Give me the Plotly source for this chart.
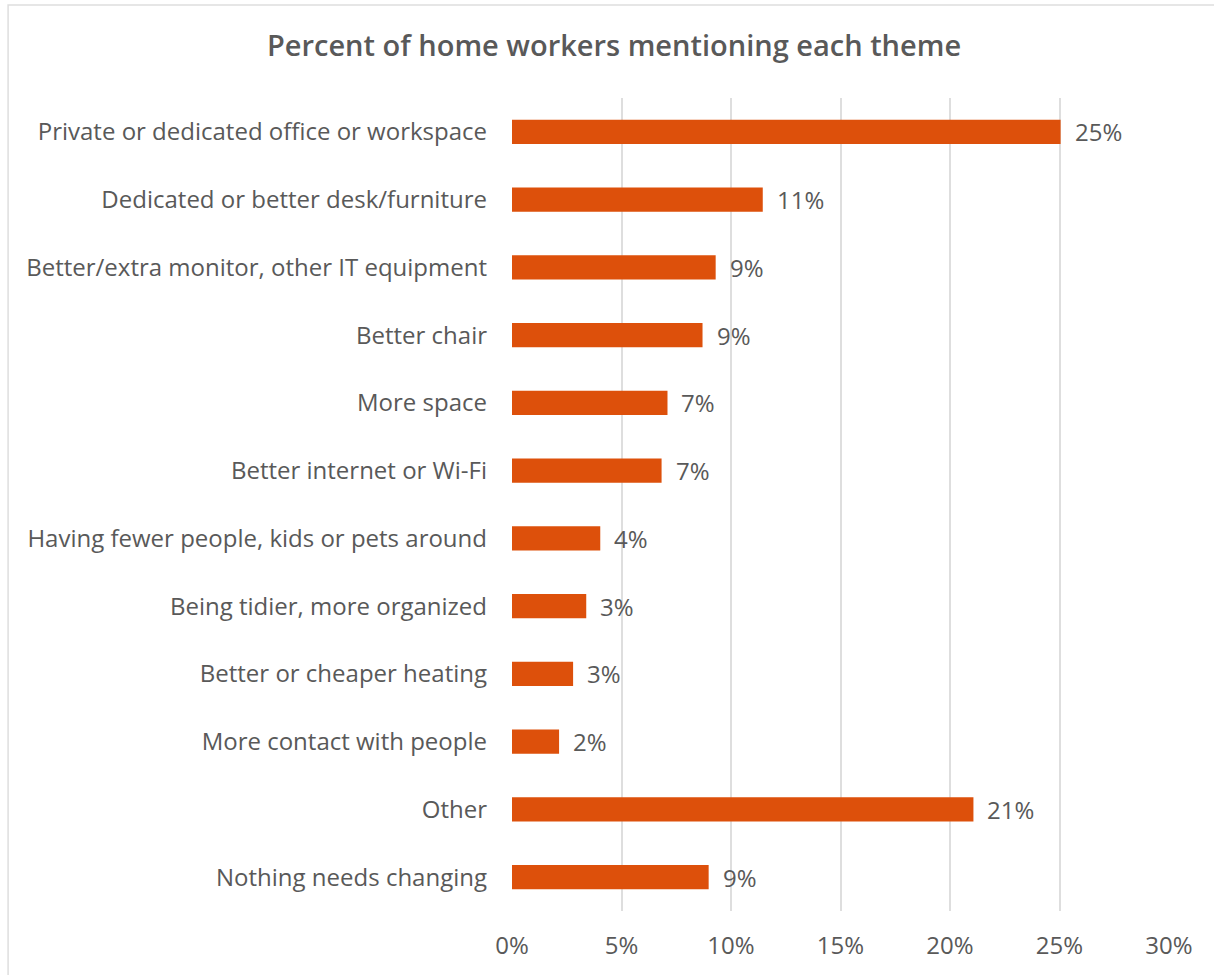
import plotly.graph_objects as go

# Survey themes, listed top to bottom
themes = [
    "Private or dedicated office or workspace",
    "Dedicated or better desk/furniture",
    "Better/extra monitor, other IT equipment",
    "Better chair",
    "More space",
    "Better internet or Wi-Fi",
    "Having fewer people, kids or pets around",
    "Being tidier, more organized",
    "Better or cheaper heating",
    "More contact with people",
    "Other",
    "Nothing needs changing",
]

# Share of home workers mentioning each theme
shares = [0.2505, 0.1145, 0.093, 0.087, 0.071, 0.0683, 0.0403, 0.0339,
          0.0279, 0.0215, 0.2107, 0.0898]

x_ticks = [0, 0.05, 0.10, 0.15, 0.20, 0.25, 0.30]
x_tick_labels = ["0%", "5%", "10%", "15%", "20%", "25%", "30%"]

BAR = "#dd500b"
TEXT = "#595959"
GRID = "#dedede"
FONT = "Open Sans"
SIZE = 24

fig = go.Figure(
    go.Bar(
        x=shares,
        y=themes,
        orientation="h",
        marker=dict(color=BAR, line=dict(width=0)),
        width=0.355,
        hoverinfo="skip",
    )
)

# Value labels to the right of each bar
for theme, share in zip(themes, shares):
    fig.add_annotation(
        x=share, y=theme, xref="x", yref="y",
        text=f"{share:.0%}", showarrow=False,
        xanchor="left", yanchor="middle", xshift=12,
        font=dict(family=FONT, size=SIZE, color=TEXT),
    )

# Light frame around the chart area
fig.add_shape(
    type="rect", xref="paper", yref="paper",
    x0=-0.767, x1=1.2, y0=-0.2, y1=1.1144,
    line=dict(color=GRID, width=1.5), fillcolor="rgba(0,0,0,0)",
    layer="below",
)

fig.update_layout(
    width=1214,
    height=975,
    margin=dict(l=512, r=45, t=98, b=64),
    paper_bgcolor="white",
    plot_bgcolor="white",
    showlegend=False,
    title=dict(
        text="Percent of home workers mentioning each theme",
        x=0.5058, xref="container", xanchor="center",
        y=1 - 46 / 975, yref="container", yanchor="middle",
        font=dict(family=FONT, size=29, color=TEXT, weight=600),
    ),
    font=dict(family=FONT, size=SIZE, color=TEXT),
    bargap=0.5,
)

fig.update_xaxes(
    range=[0, 0.30],
    tickvals=x_ticks,
    ticktext=x_tick_labels,
    showgrid=True,
    gridcolor=GRID,
    gridwidth=2,
    zeroline=False,
    showline=False,
    ticks="",
    ticklabelstandoff=18,
    tickfont=dict(family=FONT, size=SIZE, color=TEXT),
    fixedrange=True,
)

fig.update_yaxes(
    autorange="reversed",
    showgrid=False,
    zeroline=False,
    showline=False,
    ticks="",
    ticklabelstandoff=24,
    tickfont=dict(family=FONT, size=SIZE, color=TEXT),
    fixedrange=True,
)

fig.write_html("out.html", config={"displayModeBar": False})
